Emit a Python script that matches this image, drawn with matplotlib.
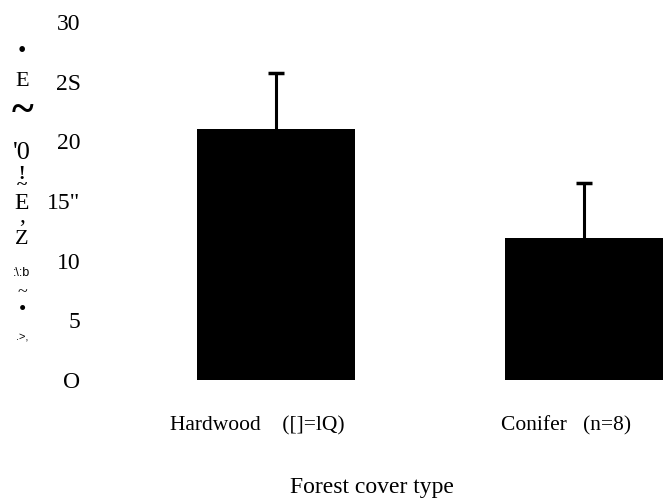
import matplotlib.pyplot as plt

# datos
categorias = ['Hardwood    ([]=lQ)', 'Conifer   (n=8)']
medias = [21.0, 11.9]
errores = [4.7, 4.6]
ticks_y = [0, 5, 10, 15, 20, 25, 30]
etiquetas_y = ['O', '5', '10', '15"', '20', '2S', '30']

# trozos del titulo del eje y (texto escaneado): texto, y en pixeles, tamano, negrita, familia
trozos_y = [('\u2022', 51, 17, 'normal', 'serif'),
            ('E', 82, 16, 'normal', 'serif'),
            ('~', 112, 30, 'bold', 'serif'),
            ("'0", 153, 19, 'normal', 'serif'),
            ('!\n~', 180, 14, 'bold', 'serif'),
            ('E\n,', 210, 17, 'normal', 'serif'),
            ('Z', 240, 16, 'normal', 'serif'),
            (':\\:b', 273, 9, 'normal', 'sans-serif'),
            ('~', 293, 13, 'normal', 'serif'),
            ('\u2022', 311, 15, 'normal', 'serif'),
            ('.>,', 337, 8, 'normal', 'sans-serif')]

plt.rcParams['font.family'] = ['Liberation Serif', 'DejaVu Serif']

fig = plt.figure(figsize=(6.64, 5.01), dpi=100)
ax = fig.add_axes([100 / 664, 121 / 501, 564 / 664, 358 / 501])

pos = [0, 1]
ax.bar(pos, medias, width=0.512, color='black', zorder=3)
linea, tapas, barras = ax.errorbar(pos, medias, yerr=[[0, 0], errores], fmt='none',
                                   ecolor='black', elinewidth=2.2, capsize=6,
                                   capthick=2.5, zorder=2)
tapas[0].set_visible(False)  # solo la tapa de arriba

ax.set_xlim(-0.569, 1.259)
ax.set_ylim(0, 30)
ax.set_yticks(ticks_y, etiquetas_y, fontsize=17)
ax.tick_params(axis='y', length=0, pad=14)
ax.set_xticks([])
for s in ax.spines.values():
    s.set_visible(False)

for p, c in zip(pos, categorias):
    ax.annotate(c, xy=(p, 0), xytext=(-13, -33), textcoords='offset points',
                ha='center', va='center', fontsize=15.5)

fig.text(372 / 664, 1 - 487 / 501, 'Forest cover type', ha='center', va='center',
         fontsize=17)

for t, y, fs, fw, fam in trozos_y:
    if fam == 'sans-serif':
        fam = ['Liberation Sans', 'DejaVu Sans']
    else:
        fam = ['Liberation Serif', 'DejaVu Serif']
    fig.text(22 / 664, 1 - y / 501, t, ha='center', va='center', fontsize=fs,
             fontweight=fw, family=fam, linespacing=0.55)

fig.savefig('out.png', dpi=100)
